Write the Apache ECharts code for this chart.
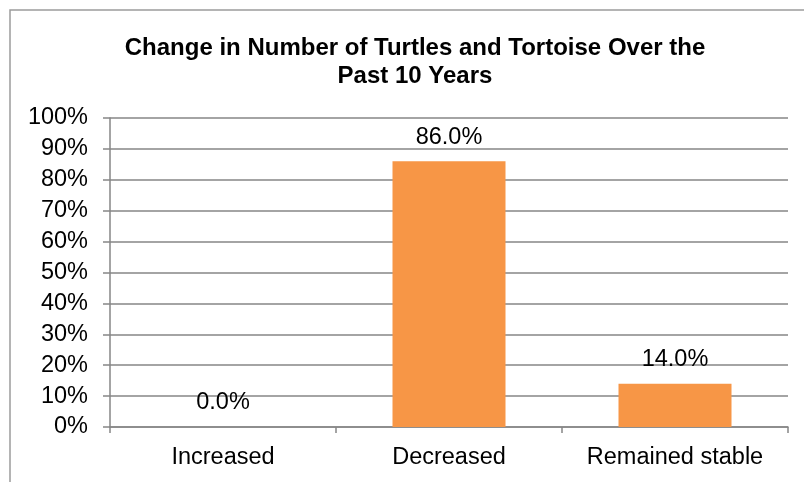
<!DOCTYPE html>
<html>
<head>
<meta charset="utf-8">
<script src="https://cdn.jsdelivr.net/npm/echarts@6/dist/echarts.min.js"></script>
<style>
html,body{margin:0;padding:0;background:#fff;}
#chart{width:804px;height:482px;}
</style>
</head>
<body>
<div id="chart"></div>
<script>
const titleText = 'Change in Number of Turtles and Tortoise Over the\nPast 10 Years';
const categories = ['Increased', 'Decreased', 'Remained stable'];
const values = [0.0, 86.0, 14.0];
const yTicks = [0, 10, 20, 30, 40, 50, 60, 70, 80, 90, 100];

const FONT = 'Liberation Sans, Arial, sans-serif';
const chart = echarts.init(document.getElementById('chart'), null, {renderer: 'canvas'});
chart.setOption({
  animation: false,
  backgroundColor: '#fff',
  graphic: [{
    type: 'rect',
    shape: {x: 10, y: 10, width: 900, height: 600},
    style: {fill: 'none', stroke: '#9c9c9c', lineWidth: 1.5},
    silent: true, z: -1
  }],
  title: {
    text: titleText,
    left: 410,
    top: 29,
    textAlign: 'center',
    textStyle: {fontFamily: FONT, fontWeight: 'bold', fontSize: 24, lineHeight: 28, color: '#000'}
  },
  grid: {left: 110, right: 16, top: 118, bottom: 55},
  xAxis: {
    type: 'category',
    data: categories,
    axisLine: {lineStyle: {color: '#868686', width: 1.5}},
    axisTick: {show: true, length: 6, lineStyle: {color: '#868686', width: 1.5}},
    axisLabel: {fontFamily: FONT, fontSize: 23.5, color: '#000', margin: 19, interval: 0, hideOverlap: false}
  },
  yAxis: {
    type: 'value',
    min: yTicks[0],
    max: yTicks[yTicks.length - 1],
    interval: 10,
    axisLine: {show: true, lineStyle: {color: '#868686', width: 1.5}},
    axisTick: {show: true, inside: false, length: 7, lineStyle: {color: '#868686', width: 1.5}},
    splitLine: {show: true, lineStyle: {color: '#868686', width: 1.5}},
    axisLabel: {fontFamily: FONT, fontSize: 23.5, color: '#000', margin: 22, formatter: '{value}%'}
  },
  series: [{
    type: 'bar',
    data: values,
    barWidth: '50%',
    itemStyle: {color: '#F79646'},
    label: {
      show: true,
      position: 'top',
      distance: 12,
      fontFamily: FONT,
      fontSize: 23.5,
      color: '#000',
      formatter: p => p.value.toFixed(1) + '%'
    }
  }]
});
</script>
</body>
</html>
